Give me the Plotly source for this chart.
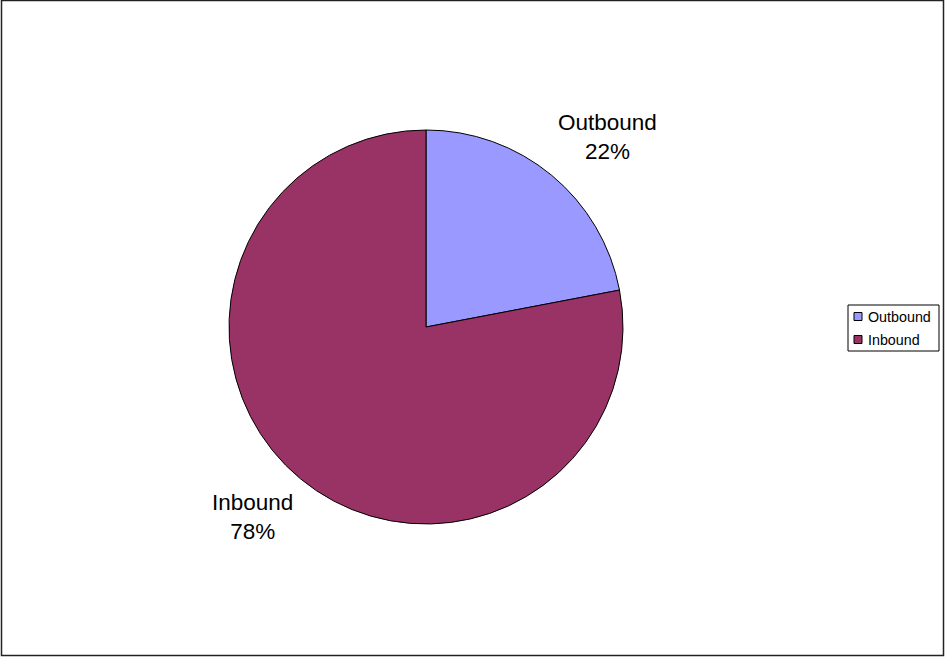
import math
import plotly.graph_objects as go

# Share of traffic by direction
labels = ["Outbound", "Inbound"]
values = [22, 78]
colors = ["#9999FF", "#993366"]

W, H = 945, 657
cx, cy, R = 426, 327, 197  # pie centre and radius in pixels (from top-left)

fig = go.Figure(
    go.Pie(
        labels=labels,
        values=values,
        sort=False,
        direction="clockwise",
        rotation=0,
        textinfo="none",
        hoverinfo="label+percent",
        marker=dict(colors=colors, line=dict(color="#000000", width=1)),
        domain=dict(
            x=[(cx - R) / W, (cx + R) / W],
            y=[(H - cy - R) / H, (H - cy + R) / H],
        ),
        showlegend=False,
    )
)

# Category labels placed outside each slice, near its mid-angle
total = sum(values)
start = 0.0
annotations = []
for lab, v in zip(labels, values):
    frac = v / total
    mid = (start + frac / 2) * 2 * math.pi + math.radians(3.5)
    start += frac
    rr = R * 1.32
    px = cx + 4 + rr * math.sin(mid)
    py = cy - rr * math.cos(mid)
    annotations.append(dict(
        x=px / W, y=1 - py / H, xref="paper", yref="paper",
        text=f"{lab}<br>{round(frac * 100)}%", showarrow=False,
        font=dict(family="Liberation Sans, Arial, sans-serif", size=22.5, color="#000000"),
        xanchor="center", yanchor="middle", align="center",
    ))

# Legend box with swatches
shapes = []
lx0, ly0, lx1, ly1 = 848, 305, 939, 351
shapes.append(dict(type="rect", xref="paper", yref="paper",
                   x0=lx0 / W, x1=lx1 / W, y0=1 - ly1 / H, y1=1 - ly0 / H,
                   line=dict(color="#000000", width=1), fillcolor="#FFFFFF"))
for i, (lab, col) in enumerate(zip(labels, colors)):
    yc = 316.5 + i * 23
    shapes.append(dict(type="rect", xref="paper", yref="paper",
                       x0=854 / W, x1=862 / W, y0=1 - (yc + 4) / H, y1=1 - (yc - 4) / H,
                       line=dict(color="#000000", width=1), fillcolor=col))
    annotations.append(dict(
        x=866 / W, y=1 - yc / H, xref="paper", yref="paper", text=lab,
        showarrow=False, xanchor="left", yanchor="middle",
        font=dict(family="Liberation Sans, Arial, sans-serif", size=14.3, color="#000000"),
    ))

# Outer chart border
shapes.append(dict(type="rect", xref="paper", yref="paper",
                   x0=1.5 / W, x1=943.5 / W, y0=1 - 655.5 / H, y1=1 - 0.5 / H,
                   line=dict(color="#222222", width=1.5)))

fig.update_layout(
    width=W, height=H,
    margin=dict(l=0, r=0, t=0, b=0),
    paper_bgcolor="#FFFFFF",
    plot_bgcolor="#FFFFFF",
    shapes=shapes,
    annotations=annotations,
)

fig.write_html("out.html")
